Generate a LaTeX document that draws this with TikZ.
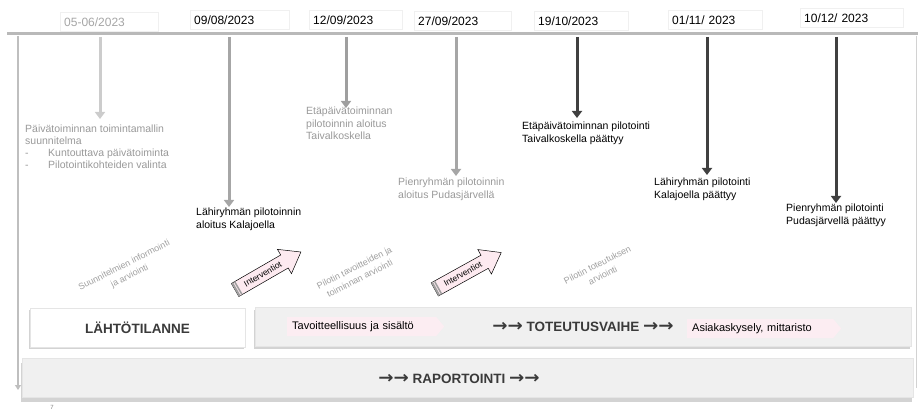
\documentclass[tikz,border=0pt]{standalone}
\usepackage{fontspec}
\setmainfont{Liberation Sans}
\newfontfamily\arrowfont{DejaVu Sans}
\usepackage{tikz}
\usetikzlibrary{shapes,shapes.symbols,arrows.meta,positioning,calc,shadows}
\definecolor{pinkfill}{RGB}{253,234,240}
\definecolor{paletag}{RGB}{252,237,242}
\definecolor{phasegray}{RGB}{240,240,240}
\definecolor{inkgray}{RGB}{58,58,58}
\newcommand{\twoarrows}{{\arrowfont\scalebox{1.35}[1.25]{→→}}}

\begin{document}
\begin{tikzpicture}[x=1pt, y=-1pt,
    datebox/.style={draw=gray!12, fill=white, anchor=west, minimum height=19pt,
        inner xsep=4pt, text width=#1, align=left, font=\fontsize{12}{14}\selectfont},
    tick/.style={line width=3pt, -{Triangle[width=10pt,length=7pt]}},
    note/.style={anchor=north west, align=left, inner sep=0pt,
        font=\fontsize{10.5}{13}\selectfont},
    review/.style={text=gray!75, align=center, inner sep=0pt, rotate=27,
        font=\fontsize{9}{12}\selectfont},
    stagebox/.style={draw=gray!20, minimum height=39pt, inner sep=0pt,
        text=inkgray, font=\bfseries\fontsize{13.5}{16}\selectfont},
    lift/.style={drop shadow={shadow xshift=-1pt, shadow yshift=-#1, opacity=0.35}},
    tag/.style={signal, signal to=east, signal from=nowhere, signal pointer angle=100,
        fill=paletag, anchor=west, minimum height=19pt, inner xsep=5pt, text width=#1,
        align=left, font=\fontsize{11}{13}\selectfont},
    bigarrow/.style={draw=black, line width=0.5pt, fill=pinkfill}
]
    \useasboundingbox (0,0) rectangle (918,414);

    % Timeline frame
    \draw[line width=2.5pt, gray!50, -{Triangle[width=6pt,length=5pt]}] (18,36) -- (18,390);
    \draw[line width=1pt, gray!35] (916,36) -- (916,388);
    \draw[line width=3pt, gray!55] (7,34) -- (918,34);

    % Dates
    \node[datebox=90pt, text=gray!70] (d1) at (60,22) {05-06/2023};
    \node[datebox=91pt] (d2) at (190,20) {09/08/2023};
    \node[datebox=85pt] (d3) at (309,20) {12/09/2023};
    \node[datebox=89pt] (d4) at (414,21) {27/09/2023};
    \node[datebox=86pt] (d5) at (534,21) {19/10/2023};
    \node[datebox=86pt] (d6) at (668,20) {01/11/ 2023};
    \node[datebox=95pt] (d7) at (800,18) {10/12/ 2023};

    % Events
    \node[note, text=gray!80, font=\fontsize{10.5}{12}\selectfont] (t1) at (25,125)
        {Päivätoiminnan toimintamallin\\suunnitelma\\
        \makebox[23pt][l]{-}Kuntouttava päivätoiminta\\
        \makebox[23pt][l]{-}Pilotointikohteiden valinta};
    \node[note] (t2) at (196,208) {Lähiryhmän pilotoinnin\\aloitus Kalajoella};
    \node[note, text=gray!80, font=\fontsize{10.5}{12.5}\selectfont] (t3) at (306,107)
        {Etäpäivätoiminnan\\pilotoinnin aloitus\\Taivalkoskella};
    \node[note, text=gray!80] (t4) at (398,178) {Pienryhmän pilotoinnin\\aloitus Pudasjärvellä};
    \node[note] (t5) at (522,122) {Etäpäivätoiminnan pilotointi\\Taivalkoskella päättyy};
    \node[note] (t6) at (654,178) {Lähiryhmän pilotointi\\Kalajoella päättyy};
    \node[note] (t7) at (786,204) {Pienryhmän pilotointi\\Pudasjärvellä päättyy};

    \coordinate (s1) at (100,37);  \coordinate (e1) at (100,119);
    \coordinate (s2) at (229,37);  \coordinate (e2) at (229,207);
    \coordinate (s3) at (346,37);  \coordinate (e3) at (346,108);
    \coordinate (s4) at (456,37);  \coordinate (e4) at (456,176);
    \coordinate (s5) at (577,37);  \coordinate (e5) at (577,118);
    \coordinate (s6) at (707,37);  \coordinate (e6) at (707,175);
    \coordinate (s7) at (836,37);  \coordinate (e7) at (836,203);
    \draw[tick, gray!40] (s1) -- (e1);
    \draw[tick, gray!70] (s2) -- (e2);
    \draw[tick, gray!75] (s3) -- (e3);
    \draw[tick, gray!70] (s4) -- (e4);
    \draw[tick, black!75] (s5) -- (e5);
    \draw[tick, black!75] (s6) -- (e6);
    \draw[tick, black!75] (s7) -- (e7);

    % Reviews
    \node[review] (r1) at (127,271) {Suunnitelmien informointi\\ja arviointi};
    \node[review] (r2) at (357,273) {Pilotin tavoitteiden ja\\toiminnan arviointi};
    \node[review] (r3) at (600,270) {Pilotin toteutuksen\\arviointi};

    % Interventions
    \begin{scope}[shift={(268,271)}, rotate=30]
        \draw[bigarrow] (-38,-7.5) -- (19,-7.5) -- (19,-14) -- (38,0) -- (19,14) -- (19,7.5) -- (-38,7.5) -- cycle;
        \fill[gray!75] (-38,-7.5) rectangle (-36,7.5) (-35,-7.5) rectangle (-33.5,7.5);
        \node[rotate=30, font=\fontsize{8.5}{9}\selectfont] (iv1) at (-6,0) {Interventiot};
    \end{scope}
    \begin{scope}[shift={(468,271)}, rotate=29]
        \draw[bigarrow] (-38,-7.5) -- (19,-7.5) -- (19,-14) -- (38,0) -- (19,14) -- (19,7.5) -- (-38,7.5) -- cycle;
        \fill[gray!75] (-38,-7.5) rectangle (-36,7.5) (-35,-7.5) rectangle (-33.5,7.5);
        \node[rotate=29, font=\fontsize{8.5}{9}\selectfont] (iv2) at (-6,0) {Interventiot};
    \end{scope}

    % Phases
    \node[stagebox, lift=2pt, fill=white, minimum width=215pt] (start) at (137.5,327.5) {LÄHTÖTILANNE};
    \node[stagebox, lift=2pt, fill=phasegray, minimum width=656pt] (impl) at (583,327)
        {\twoarrows\ TOTEUTUSVAIHE \twoarrows};
    \node[tag=139pt] (g1) at (287,326.5) {Tavoitteellisuus ja sisältö};
    \node[tag=136pt] (g2) at (687,328.5) {Asiakaskysely, mittaristo};

    % Reporting
    \node[stagebox, lift=5pt, fill=phasegray, minimum width=891pt] (report) at (467.5,377.5) {};
    \node[text=inkgray, font=\bfseries\fontsize{13.5}{16}\selectfont] (rlabel) at (459,379)
        {\twoarrows\ RAPORTOINTI \twoarrows};

    \node[text=gray, font=\fontsize{6}{7}\selectfont] (pg) at (52,407) {7};
\end{tikzpicture}
\end{document}
